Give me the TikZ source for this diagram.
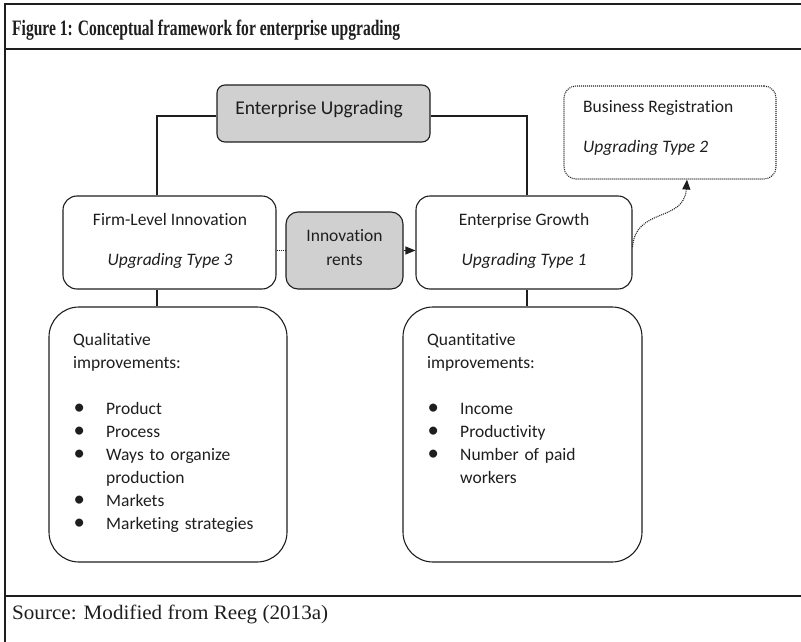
\documentclass[tikz,border=0pt]{standalone}
\usepackage{fontspec}
\usepackage{graphicx}
\setmainfont{Carlito}[Ligatures={NoCommon}]
\newfontfamily\timesfont{Liberation Serif}
\usetikzlibrary{calc,arrows.meta}
\definecolor{boxgray}{HTML}{D0D0D0}
\definecolor{ink}{HTML}{1E1E1E}
\newcommand\bul{\makebox[33pt][l]{\kern0.5pt\raisebox{-0.6pt}{\scalebox{1.3}{\textbullet}}}}
\begin{document}
\begin{tikzpicture}[x=1pt,y=-1pt,
  box/.style={draw=ink, line width=1.1pt, rounded corners=14pt, inner sep=0pt},
  txt/.style={font=\fontsize{17.5}{23}\selectfont, text=ink, inner sep=0pt},
  conn/.style={draw=ink, line width=1.1pt},
  dotline/.style={draw=ink, line width=1.1pt, dash pattern=on 1pt off 1pt},
  frame/.style={draw=ink, line width=1.4pt},
  tip/.style={-{Triangle[length=10pt,width=8pt]}}
  ]
\useasboundingbox (0,0) rectangle (801,642);
% frame
\draw[frame] (801,4) -- (5,4) -- (5,642);
\draw[frame] (5,49) -- (801,49);
\draw[frame] (5,596) -- (801,596);
\node[anchor=base west, inner sep=0pt, text=ink] (title) at (12,36)
  {\resizebox{388pt}{\height}{\timesfont\fontsize{22}{26}\selectfont\bfseries Figure 1: Conceptual framework for enterprise upgrading}};
\node[anchor=base west, inner sep=0pt, text=ink] (source) at (12,619)
  {\resizebox{316pt}{\height}{\timesfont\fontsize{20.5}{24}\selectfont Source: Modified from Reeg (2013a)}};

% boxes
\node[box, fill=boxgray, rounded corners=8pt, minimum width=213pt, minimum height=57pt] (eu) at (323.5,113.5) {};
\node[txt, anchor=base, font=\fontsize{19.5}{23}\selectfont] (eut) at (319,114) {Enterprise Upgrading};

\node[box, minimum width=213pt, minimum height=93pt] (firm) at (169.5,242.5) {};
\node[txt, anchor=base] (firmt1) at (170,225) {Firm-Level Innovation};
\node[txt, anchor=base] (firmt2) at (170,265) {\itshape Upgrading Type 3};

\node[box, fill=boxgray, rounded corners=12pt, minimum width=117pt, minimum height=77pt] (rents) at (344.5,250.5) {};
\node[txt, anchor=base] (rentst1) at (344.5,241) {Innovation};
\node[txt, anchor=base] (rentst2) at (344.5,265) {rents};

\node[box, minimum width=216pt, minimum height=93pt] (eg) at (524,242.5) {};
\node[txt, anchor=base] (egt1) at (524,225) {Enterprise Growth};
\node[txt, anchor=base] (egt2) at (524,265) {\itshape Upgrading Type 1};

\node[box, dotline, rounded corners=12pt, minimum width=212pt, minimum height=93pt] (br) at (670,132.5) {};
\node[txt, anchor=base west] (brt1) at (583,113) {Business Registration};
\node[txt, anchor=base west] (brt2) at (583,152) {\itshape Upgrading Type 2};

\node[box, rounded corners=30pt, minimum width=238pt, minimum height=255pt] (qual) at (168,434.5) {};
\node[txt, anchor=base west, text width=210pt, align=left] (qualt) at (73,345)
  {Qualitative\\
   improvements:\\[23pt]
   \bul Product\\
   \bul Process\\
   \bul Ways to organize\\
   \hspace*{33pt}production\\
   \bul Markets\\
   \bul Marketing strategies};

\node[box, rounded corners=30pt, minimum width=239pt, minimum height=255pt] (quant) at (522.5,434.5) {};
\node[txt, anchor=base west, text width=210pt, align=left] (quantt) at (427,345)
  {Quantitative\\
   improvements:\\[23pt]
   \bul Income\\
   \bul Productivity\\
   \bul Number of paid\\
   \hspace*{33pt}workers};

% connectors
\draw[conn] ([yshift=-2.5pt]eu.west) -| ([xshift=-12.5pt]firm.north);
\draw[conn] ([yshift=-2.5pt]eu.east) -| ([xshift=3pt]eg.north);
\draw[conn] ([xshift=-12.5pt]firm.south) -- ([xshift=-11pt]qual.north);
\draw[conn] ([xshift=3pt]eg.south) -- ([xshift=4.5pt]quant.north);
\draw[dotline] (rents.west -| firm.east) -- (rents.west);
\draw[conn, tip] (rents.east) -- (rents.east -| eg.west);
\draw[dotline, tip] ([yshift=-4.5pt]eg.east) .. controls ++(3,-40) and ([xshift=14pt,yshift=-43pt]br.south) .. ([xshift=17pt]br.south);
\end{tikzpicture}
\end{document}
